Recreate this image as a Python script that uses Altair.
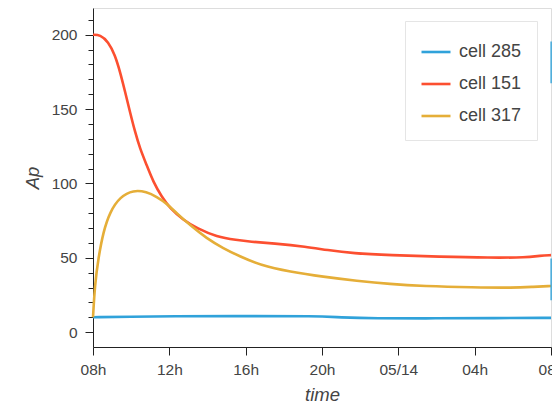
import altair as alt
import pandas as pd

# ---- data (hours after 2018-05-13 08:00) ----
cells = ["cell 285", "cell 151", "cell 317"]
colors = ["#30a2da", "#fc4f30", "#e5ae38"]

blue_t = [0, 2, 4, 8, 11.7, 12.95, 14.7, 18, 21, 24]
blue_v = [10.0, 10.4, 10.7, 10.8, 10.8, 9.9, 9.2, 9.3, 9.4, 9.6]

red_t = [0, 0.37, 0.8, 1.15, 1.42, 1.68, 1.94, 2.2, 2.46, 2.81, 3.16, 3.6, 4.04,
         4.73, 5.46, 6.48, 7.53, 8.23, 9.45, 11.2, 12.25, 13.64, 15.57, 18.19,
         20.8, 22.73, 23.43, 24]
red_v = [200, 200, 195.4, 186.4, 175, 161.7, 148, 134.8, 123.6, 112.4, 101, 91,
         83.2, 75.4, 69.8, 64.1, 61.9, 60.8, 59.7, 57.4, 55.2, 53, 51.8, 50.7,
         50, 50.2, 51.4, 51.8]

orange_t = [0, 0.1, 0.28, 0.54, 0.89, 1.42, 2.11, 2.81, 3.34, 3.86, 4.39, 5.08,
            5.96, 6.83, 7.7, 8.75, 10.32, 12.07, 13.82, 15.57, 17.31, 19.93,
            22.03, 23.08, 24]
orange_v = [10, 32, 49.6, 67.5, 81, 91, 95.6, 94.4, 91, 86.6, 79.9, 72, 63, 56.3,
            50.9, 45.1, 40.6, 37.2, 34.5, 32.3, 31, 30.1, 29.8, 30.5, 31]

# short vertical marks at the right edge of the frame
edge_lo = [167.4, 21.5]
edge_hi = [195.4, 49.6]

y_major = [0, 50, 100, 150, 200]
y_minor = [10, 20, 30, 40, 60, 70, 80, 90, 110, 120, 130, 140, 160, 170, 180, 190, 210]
x_tick_hours = [0, 4, 8, 12, 16, 20, 24]

start = pd.Timestamp("2018-05-13 08:00:00")


def iso(h):
    return (start + pd.Timedelta(hours=h)).strftime("%Y-%m-%dT%H:%M:%S")


def dt(h):
    t = start + pd.Timedelta(hours=h)
    return alt.DateTime(year=t.year, month=t.month, date=t.day, hours=t.hour)


rows = []
for name, ts, vs in [("cell 285", blue_t, blue_v), ("cell 151", red_t, red_v),
                     ("cell 317", orange_t, orange_v)]:
    for t, v in zip(ts, vs):
        rows.append({"time": iso(t), "Ap": v, "cell": name})
df = pd.DataFrame(rows)

edge_df = pd.DataFrame({"time": [iso(24)] * len(edge_lo), "lo": edge_lo, "hi": edge_hi})

FONT = "Liberation Sans"

x_scale = alt.Scale(domain=[dt(0), dt(24)], nice=False)
y_scale = alt.Scale(domain=[-10, 218], nice=False, zero=False)

x_axis = alt.Axis(
    values=[dt(h) for h in x_tick_hours],
    labelExpr="hours(datum.value) == 0 ? timeFormat(datum.value, '%m/%d') : timeFormat(datum.value, '%Hh')",
    tickSize=8, labelPadding=7, labelFontSize=15.5, labelFont=FONT, labelColor="#444",
    title="time", titleFont=FONT, titleFontSize=18.5, titleFontStyle="italic",
    titleFontWeight="normal", titleColor="#444", titlePadding=8,
    domainColor="#222", tickColor="#222", grid=False, labelFlush=False,
    labelOverlap=False,
)

y_axis = alt.Axis(
    values=y_major, tickSize=8, labelPadding=8, labelFontSize=15.5, labelFont=FONT,
    labelColor="#444", title="Ap", titleFont=FONT, titleFontSize=18.5,
    titleFontStyle="italic", titleFontWeight="normal", titleColor="#444",
    titlePadding=9, domainColor="#222", tickColor="#222", grid=False,
)

lines = alt.Chart(df).mark_line(strokeWidth=2.6, interpolate="basis").encode(
    x=alt.X("time:T", scale=x_scale, axis=x_axis),
    y=alt.Y("Ap:Q", scale=y_scale, axis=y_axis),
    color=alt.Color(
        "cell:N",
        scale=alt.Scale(domain=cells, range=colors),
        sort=cells,
        legend=alt.Legend(
            orient="none", legendX=312, legendY=13, title=None,
            fillColor="white", strokeColor="#e5e5e5", padding=15,
            symbolType="stroke", symbolSize=841, symbolStrokeWidth=2.6,
            labelFontSize=18, labelFont=FONT, labelColor="#444",
            labelOffset=7, rowPadding=7, cornerRadius=0,
        ),
    ),
)

edge = alt.Chart(edge_df).mark_rule(color="#30a2da", opacity=0.8, strokeWidth=2.2, xOffset=0.4).encode(
    x=alt.X("time:T", scale=x_scale, axis=x_axis),
    y=alt.Y("lo:Q", scale=y_scale, axis=alt.Axis(
        orient="left", values=y_minor, tickSize=5, labels=False, domain=False,
        title=None, tickColor="#222", grid=False)),
    y2="hi:Q",
)

chart = alt.layer(lines, edge).resolve_scale(y="shared").resolve_axis(y="independent").properties(
    width=458, height=339,
    autosize="none",
    padding={"left": 85, "top": 0, "right": 1, "bottom": 59},
).configure_view(stroke="#e5e5e5", strokeWidth=1.5).configure(background="white")

chart.save("out.html", embed_options={"renderer": "svg", "actions": False})
